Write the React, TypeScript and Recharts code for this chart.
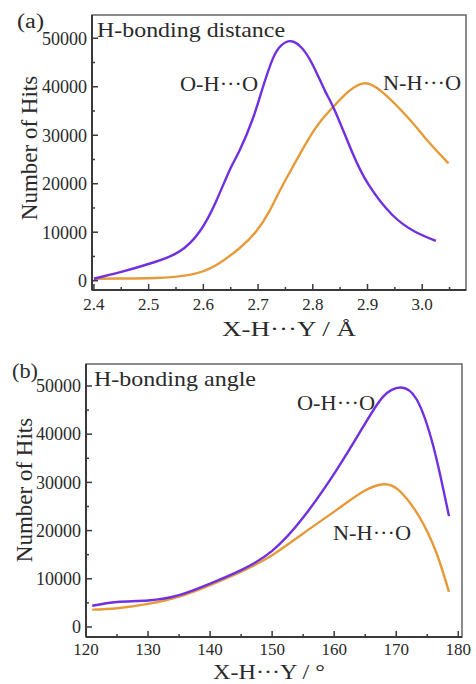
import { LineChart, Line, XAxis, YAxis, ReferenceArea } from 'recharts'

// (a) H-bonding distance, X-H...Y in Angstrom
const distOhoX = [2.4, 2.45, 2.51, 2.556, 2.593, 2.623, 2.648, 2.666, 2.69, 2.708, 2.727, 2.742, 2.76, 2.78, 2.8, 2.823, 2.841, 2.872, 2.902, 2.945, 2.987, 3.025]
const distOhoHits = [400, 1800, 3800, 6000, 10100, 16300, 22800, 26800, 33300, 39600, 45800, 48500, 49400, 48000, 44500, 39000, 34900, 26500, 19800, 13600, 10100, 8200]
const distNhoX = [2.4, 2.45, 2.51, 2.575, 2.623, 2.666, 2.696, 2.72, 2.739, 2.762, 2.79, 2.815, 2.841, 2.865, 2.893, 2.926, 2.975, 3.011, 3.048]
const distNhoHits = [400, 450, 550, 1200, 3200, 6700, 10100, 14200, 18400, 23200, 28800, 33000, 36300, 39000, 40700, 39000, 33500, 28700, 24200]

// (b) H-bonding angle, degrees
const angOhoX = [121, 125, 130, 135, 140, 145, 150, 155, 160.4, 164.7, 167.9, 170.7, 173.3, 176, 178.5]
const angOhoHits = [4400, 5200, 5500, 6600, 9000, 11800, 15800, 22700, 32600, 41600, 47800, 49700, 47200, 37400, 23000]
const angNhoX = [121, 125, 130, 135, 140, 145, 150, 155, 160.4, 164.7, 167.9, 170.4, 173.7, 176.5, 178.5]
const angNhoHits = [3600, 3900, 4800, 6300, 8700, 11500, 14900, 19400, 24300, 28100, 29600, 28400, 22900, 15300, 7300]

const distTicks = [2.4, 2.45, 2.5, 2.55, 2.6, 2.65, 2.7, 2.75, 2.8, 2.85, 2.9, 2.95, 3.0, 3.05]
const angTicks = [120, 125, 130, 135, 140, 145, 150, 155, 160, 165, 170, 175, 180]
const hitTicks = [0, 5000, 10000, 15000, 20000, 25000, 30000, 35000, 40000, 45000, 50000]

const distDomain = [2.3965, 3.08]
const distHitDomain = [-1920, 54800]
const angDomain = [120, 180.6]
const angHitDomain = [-2075, 54560]

const FONT = "'Liberation Serif', 'Times New Roman', Times, serif"
const PURPLE = '#7030e0'
const ORANGE = '#e69a3a'
const AXIS = '#3a3a3a'
const TEXT = '#2a2a2a'

const pts = (xs: number[], ys: number[]) => xs.map((x, i) => ({ x, y: ys[i] }))

const isDistMajor = (v: number) => Math.abs(v * 10 - Math.round(v * 10)) < 1e-6
const isAngMajor = (v: number) => v % 10 === 0
const isHitMajor = (v: number) => v % 10000 === 0

function BottomTick(props: any) {
  const { x, y, payload, major, fmt, gap } = props
  const isMajor = major(payload.value)
  return (
    <g>
      <line x1={x} y1={y} x2={x} y2={y - (isMajor ? 6 : 3)} stroke={AXIS} strokeWidth={1.5} />
      {isMajor && (
        <text x={x} y={y + gap} textAnchor="middle" style={{ fontFamily: FONT, fontSize: 17 }} fill={TEXT}>
          {fmt(payload.value)}
        </text>
      )}
    </g>
  )
}

function LeftTick(props: any) {
  const { x, y, payload } = props
  const isMajor = isHitMajor(payload.value)
  return (
    <g>
      <line x1={x} y1={y} x2={x + (isMajor ? 6 : 3)} y2={y} stroke={AXIS} strokeWidth={1.5} />
      {isMajor && (
        <text x={x - 5} y={y} dy="0.35em" textAnchor="end" style={{ fontFamily: FONT, fontSize: 18 }} fill={TEXT}>
          {payload.value}
        </text>
      )}
    </g>
  )
}

function Panel({ xTicks, xDomain, yDomain, major, fmt, gap, oho, nho, margin, yWidth, xHeight }: any) {
  return (
    <LineChart width={476} height={342} margin={margin}>
      <ReferenceArea
        x1={xDomain[0]}
        x2={xDomain[1]}
        y1={yDomain[0]}
        y2={yDomain[1]}
        fill="none"
        stroke="#666"
        strokeWidth={1.5}
        ifOverflow="visible"
      />
      <XAxis
        dataKey="x"
        type="number"
        domain={xDomain}
        ticks={xTicks}
        interval={0}
        allowDataOverflow
        height={xHeight}
        tickSize={0}
        tickMargin={0}
        tickLine={false}
        axisLine={{ stroke: AXIS, strokeWidth: 2 }}
        tick={(p: any) => <BottomTick {...p} major={major} fmt={fmt} gap={gap} />}
      />
      <YAxis
        type="number"
        domain={yDomain}
        ticks={hitTicks}
        interval={0}
        allowDataOverflow
        width={yWidth}
        tickSize={0}
        tickMargin={0}
        tickLine={false}
        axisLine={{ stroke: AXIS, strokeWidth: 2 }}
        tick={(p: any) => <LeftTick {...p} />}
      />
      <Line data={nho} dataKey="y" type="natural" stroke={ORANGE} strokeWidth={2.4} dot={false} isAnimationActive={false} />
      <Line data={oho} dataKey="y" type="natural" stroke={PURPLE} strokeWidth={2.4} dot={false} isAnimationActive={false} />
    </LineChart>
  )
}

function Label({ x, y, w, size = 22, children }: any) {
  return (
    <text
      x={x}
      y={y}
      textLength={w}
      lengthAdjust="spacingAndGlyphs"
      style={{ fontFamily: FONT, fontSize: size }}
      fill={TEXT}
    >
      {children}
    </text>
  )
}

export default function App() {
  return (
    <div style={{ position: 'absolute', left: 0, top: 0, width: 476, height: 684, background: '#fff' }}>
      <div style={{ position: 'absolute', left: 0, top: 0 }}>
        <Panel
          xTicks={distTicks}
          xDomain={distDomain}
          yDomain={distHitDomain}
          major={isDistMajor}
          fmt={(v: number) => v.toFixed(1)}
          gap={20}
          oho={pts(distOhoX, distOhoHits)}
          nho={pts(distNhoX, distNhoHits)}
          margin={{ top: 15, right: 10, bottom: 0, left: 0 }}
          yWidth={92}
          xHeight={52}
        />
      </div>
      <div style={{ position: 'absolute', left: 0, top: 342 }}>
        <Panel
          xTicks={angTicks}
          xDomain={angDomain}
          yDomain={angHitDomain}
          major={isAngMajor}
          fmt={(v: number) => String(v)}
          gap={18}
          oho={pts(angOhoX, angOhoHits)}
          nho={pts(angNhoX, angNhoHits)}
          margin={{ top: 22, right: 14, bottom: 0, left: 0 }}
          yWidth={86}
          xHeight={47}
        />
      </div>
      <svg width={476} height={684} style={{ position: 'absolute', left: 0, top: 0, pointerEvents: 'none' }}>
        {/* panel (a) */}
        <Label x={17} y={28} w={27} size={20}>(a)</Label>
        <Label x={97} y={37} w={188}>H-bonding distance</Label>
        <Label x={180} y={91} w={78}>O-H···O</Label>
        <Label x={383} y={90} w={78}>N-H···O</Label>
        <Label x={222} y={336} w={134}>X-H···Y / Å</Label>
        <text transform="translate(37,148) rotate(-90)" textAnchor="middle" style={{ fontFamily: FONT, fontSize: 23 }} fill={TEXT}>
          Number of Hits
        </text>
        {/* panel (b) */}
        <Label x={12} y={378} w={26} size={20}>(b)</Label>
        <Label x={94} y={386} w={162}>H-bonding angle</Label>
        <Label x={297} y={410} w={78}>O-H···O</Label>
        <Label x={333} y={540} w={78}>N-H···O</Label>
        <Label x={213} y={679} w={112}>X-H···Y / °</Label>
        <text transform="translate(32,490) rotate(-90)" textAnchor="middle" style={{ fontFamily: FONT, fontSize: 23 }} fill={TEXT}>
          Number of Hits
        </text>
      </svg>
    </div>
  )
}
